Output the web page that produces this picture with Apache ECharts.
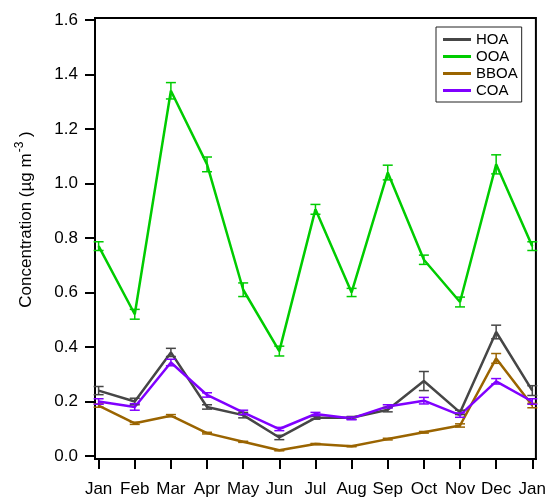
<!DOCTYPE html>
<html>
<head>
<meta charset="utf-8">
<script src="https://cdn.jsdelivr.net/npm/echarts@6/dist/echarts.min.js"></script>
<style>html,body{margin:0;padding:0;background:#fff;}#c{width:549px;height:498px;}</style>
</head>
<body>
<div id="c"></div>
<script>
var months = ['Jan','Feb','Mar','Apr','May','Jun','Jul','Aug','Sep','Oct','Nov','Dec','Jan'];
var HOA = [0.24, 0.20, 0.38, 0.18, 0.15, 0.068, 0.14, 0.14, 0.17, 0.275, 0.16, 0.455, 0.24];
var HOA_err = [0.015, 0.012, 0.015, 0.008, 0.01, 0.008, 0.005, 0.005, 0.008, 0.035, 0.008, 0.025, 0.018];
var OOA = [0.77, 0.52, 1.34, 1.07, 0.61, 0.385, 0.905, 0.60, 1.04, 0.72, 0.565, 1.07, 0.77];
var OOA_err = [0.016, 0.018, 0.03, 0.027, 0.025, 0.018, 0.018, 0.015, 0.027, 0.017, 0.018, 0.035, 0.016];
var BBOA = [0.185, 0.12, 0.148, 0.084, 0.052, 0.021, 0.044, 0.036, 0.062, 0.087, 0.112, 0.358, 0.185];
var BBOA_err = [0.006, 0.004, 0.004, 0.003, 0.002, 0.002, 0.002, 0.002, 0.003, 0.003, 0.006, 0.018, 0.008];
var COA = [0.20, 0.18, 0.343, 0.224, 0.16, 0.099, 0.154, 0.138, 0.182, 0.203, 0.15, 0.274, 0.20];
var COA_err = [0.01, 0.012, 0.012, 0.008, 0.008, 0.006, 0.006, 0.005, 0.006, 0.012, 0.008, 0.01, 0.01];
var yTicks = [0, 0.2, 0.4, 0.6, 0.8, 1.0, 1.2, 1.4, 1.6];

var names = ['HOA','OOA','BBOA','COA'];
var colors = {HOA:'#464646', OOA:'#00cc00', BBOA:'#9a6400', COA:'#8000ff'};
var vals = {HOA:HOA, OOA:OOA, BBOA:BBOA, COA:COA};
var errs = {HOA:HOA_err, OOA:OOA_err, BBOA:BBOA_err, COA:COA_err};

var series = [];
names.forEach(function(n){
  series.push({
    name: n, type: 'line', data: vals[n].map(function(v,i){return [i,v];}),
    showSymbol: false, symbol: 'none', lineStyle: {color: colors[n], width: 2.5},
    itemStyle: {color: colors[n]}, z: 3, animation: false
  });
  series.push({
    name: n + '_err', type: 'custom', z: 4, animation: false,
    data: vals[n].map(function(v,i){return [i, v - errs[n][i], v + errs[n][i]];}),
    renderItem: function(params, api){
      var x = api.value(0);
      var lo = api.coord([x, api.value(1)]);
      var hi = api.coord([x, api.value(2)]);
      var hw = 5;
      var st = {stroke: colors[n], lineWidth: 1.5, fill: null};
      return {type:'group', children:[
        {type:'line', shape:{x1:lo[0],y1:lo[1],x2:hi[0],y2:hi[1]}, style:st},
        {type:'line', shape:{x1:lo[0]-hw,y1:lo[1],x2:lo[0]+hw,y2:lo[1]}, style:st},
        {type:'line', shape:{x1:hi[0]-hw,y1:hi[1],x2:hi[0]+hw,y2:hi[1]}, style:st}
      ]};
    }
  });
});

var FONT = 'Liberation Sans, Arial, sans-serif';
var chart = echarts.init(document.getElementById('c'), null, {renderer:'canvas'});
chart.setOption({
  backgroundColor: '#fff',
  animation: false,
  textStyle: {fontFamily: FONT},
  grid: {left: 95, right: 12, top: 18, bottom: 38, show: true, borderColor: '#000', borderWidth: 2, containLabel: false},
  legend: {
    data: names, orient: 'vertical', left: 436, top: 27,
    icon: 'rect', itemWidth: 28, itemHeight: 3, itemGap: 2,
    borderColor: '#222', borderWidth: 1, padding: [5, 4, 4, 7],
    backgroundColor: '#fff',
    textStyle: {fontSize: 15, lineHeight: 15, color: '#000', fontFamily: FONT}
  },
  xAxis: {
    type: 'value', min: -0.1, max: 12.1,
    axisLine: {show: true, onZero: false, lineStyle: {color: '#000', width: 2}},
    axisTick: {show: true, length: 10, lineStyle: {color: '#000', width: 2}, customValues: months.map(function(m,i){return i;})},
    axisLabel: {
      customValues: months.map(function(m,i){return i;}),
      formatter: function(v){ return months[Math.round(v)]; },
      fontSize: 17, color: '#000', margin: 22, fontFamily: FONT
    },
    splitLine: {show: false}
  },
  yAxis: {
    type: 'value', min: -0.011, max: 1.607,
    name: 'Concentration (µg m{sup|-3} )',
    nameLocation: 'middle', nameGap: 57,
    nameTextStyle: {fontSize: 17, color: '#000', fontFamily: FONT, padding: [0,0,0,38],
      rich: {sup: {fontSize: 12, color:'#000', fontFamily: FONT, padding: [0,0,12,1]}}},
    axisLine: {show: true, onZero: false, lineStyle: {color: '#000', width: 2}},
    axisTick: {show: true, length: 10, lineStyle: {color: '#000', width: 2}, customValues: yTicks},
    axisLabel: {customValues: yTicks, formatter: function(v){return v.toFixed(1);}, fontSize: 17, color: '#000', margin: 17, fontFamily: FONT},
    splitLine: {show: false}
  },
  series: series
});
</script>
</body>
</html>
